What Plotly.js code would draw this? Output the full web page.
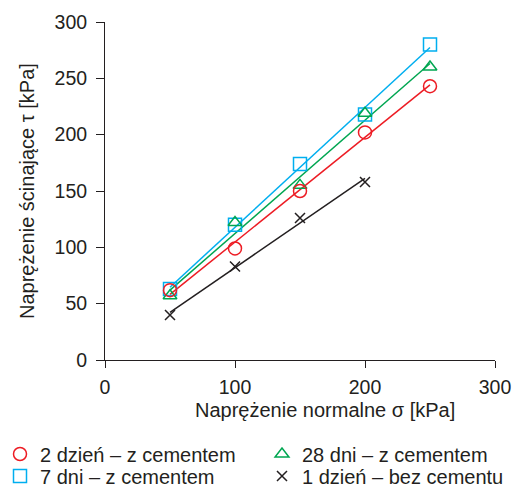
<!DOCTYPE html>
<html>
<head>
<meta charset="utf-8">
<script src="https://cdn.plot.ly/plotly-3.0.1.min.js"></script>
<style>html,body{margin:0;padding:0;background:#fff;}#chart{width:518px;height:488px;}</style>
</head>
<body>
<div id="chart"></div>
<script>
// Data
const sigma = [50, 100, 150, 200, 250];
const sigmaNoCement = [50, 100, 150, 200];
const tau2days = [62, 99, 150, 202, 243];
const tau7days = [63, 120, 174, 218, 280];
const tau28days = [57, 122, 155, 219, 260];
const tau1dayNoCement = [40, 83, 126, 158];
const seriesNames = ["2 dzień – z cementem", "7 dni – z cementem", "28 dni – z cementem", "1 dzień – bez cementu"];
const xTitle = "Naprężenie normalne σ [kPa]";
const yTitle = "Naprężenie ścinające τ [kPa]";
const xTicks = [0, 100, 200, 300];
const yTicks = [0, 50, 100, 150, 200, 250, 300];

function fit(xs, ys) {
  const n = xs.length;
  const mx = xs.reduce((a, b) => a + b, 0) / n;
  const my = ys.reduce((a, b) => a + b, 0) / n;
  let sxy = 0, sxx = 0;
  for (let i = 0; i < n; i++) { sxy += (xs[i] - mx) * (ys[i] - my); sxx += (xs[i] - mx) ** 2; }
  const b = sxy / sxx, a = my - b * mx;
  const x0 = Math.min(...xs), x1 = Math.max(...xs);
  return { x: [x0, x1], y: [a + b * x0, a + b * x1] };
}

const series = [
  { x: sigma, y: tau7days, name: seriesNames[1], color: "#00aeef", symbol: "square-open", size: 13, legend: "legend2" },
  { x: sigma, y: tau28days, name: seriesNames[2], color: "#00a651", symbol: "triangle-up-open", size: 12, legend: "legend3" },
  { x: sigma, y: tau2days, name: seriesNames[0], color: "#ed1c24", symbol: "circle-open", size: 13, legend: "legend" },
  { x: sigmaNoCement, y: tau1dayNoCement, name: seriesNames[3], color: "#231f20", symbol: "x-thin-open", size: 10, legend: "legend4" }
];

const traces = [];
series.forEach(s => {
  const f = fit(s.x, s.y);
  traces.push({ x: f.x, y: f.y, mode: "lines", line: { color: s.color, width: 1.5 }, showlegend: false, hoverinfo: "skip" });
});
series.forEach(s => {
  traces.push({
    x: s.x, y: s.y, mode: "markers", name: s.name, legend: s.legend,
    marker: { symbol: s.symbol, size: s.size, color: s.color, line: { color: s.color, width: 1.5 } }
  });
});

const fontFam = "Liberation Sans, Arial, sans-serif";
const textCol = "#231f20";
const L = 105, T = 22, W = 390, H = 338;
function leg(xpx, ypx) {
  return {
    xref: "paper", yref: "paper", x: (xpx - L) / W, y: (T + H - ypx) / H,
    xanchor: "left", yanchor: "middle", bgcolor: "rgba(0,0,0,0)",
    font: { family: fontFam, size: 20, color: textCol }
  };
}
const layout = {
  width: 518, height: 488,
  margin: { l: L, r: 518 - L - W, t: T, b: 488 - T - H, autoexpand: false },
  paper_bgcolor: "#fff", plot_bgcolor: "#fff",
  font: { family: fontFam, size: 19.5, color: textCol },
  showlegend: true,
  legend: leg(0, 454),
  legend2: leg(0, 476),
  legend3: leg(262, 454),
  legend4: leg(262, 476),
  xaxis: {
    range: [0, 300], tickvals: xTicks, showgrid: false, zeroline: false, automargin: false,
    showline: true, linecolor: textCol, linewidth: 1, ticks: "outside", ticklen: 7, tickcolor: textCol,
    ticklabelstandoff: 3
  },
  yaxis: {
    range: [0, 300], tickvals: yTicks, showgrid: false, zeroline: false, automargin: false,
    showline: true, linecolor: textCol, linewidth: 1, ticks: "outside", ticklen: 8, tickcolor: textCol,
    ticklabelstandoff: 5
  },
  annotations: [
    { text: xTitle, xref: "paper", yref: "paper", x: (325 - L) / W, y: (T + H - 410) / H,
      xanchor: "center", yanchor: "middle", showarrow: false, font: { family: fontFam, size: 20, color: textCol } },
    { text: yTitle, xref: "paper", yref: "paper", x: (27 - L) / W, y: 0.5, textangle: -90,
      xanchor: "center", yanchor: "middle", showarrow: false, font: { family: fontFam, size: 20, color: textCol } }
  ]
};

Plotly.newPlot("chart", traces, layout, { displayModeBar: false, staticPlot: true });
</script>
</body>
</html>
